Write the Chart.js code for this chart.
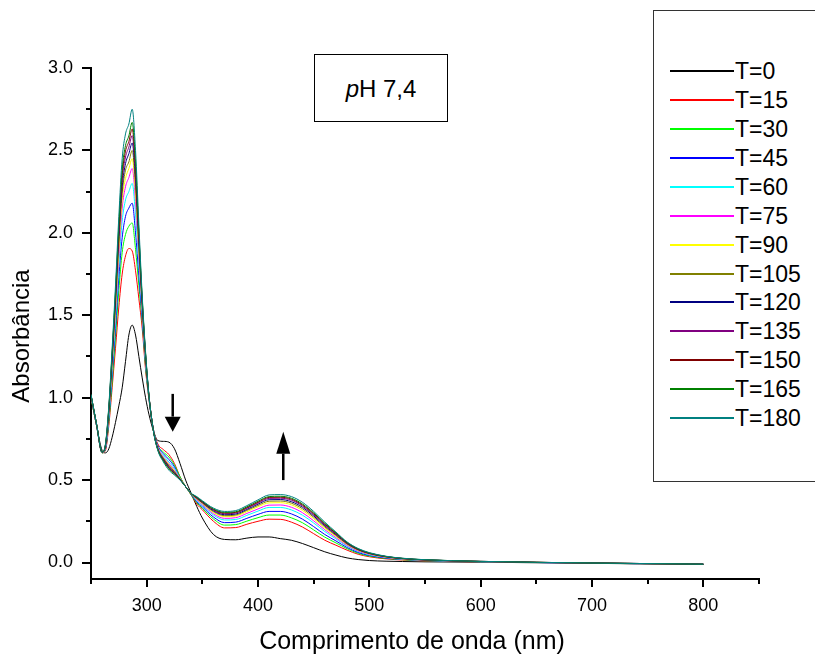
<!DOCTYPE html>
<html>
<head>
<meta charset="utf-8">
<script src="https://cdn.jsdelivr.net/npm/chart.js@4.4.1/dist/chart.umd.min.js"></script>
<style>
  html, body { margin: 0; padding: 0; background: #fff; }
  #wrap { position: relative; width: 815px; height: 655px; overflow: hidden; font-family: "Liberation Sans", Arial, sans-serif; }
  #chart { position: absolute; left: 0; top: 0; }
  #legend { position: absolute; left: 653px; top: 10px; width: 200px; height: 472px; border: 1.5px solid #333; box-sizing: border-box; background: #fff; }
  .item { position: absolute; left: 16px; height: 24px; display: flex; align-items: center; font-size: 23px; color: #000; white-space: nowrap; }
  .swatch { display: inline-block; width: 64px; height: 2px; margin-right: 1px; }
  #ph { position: absolute; left: 314px; top: 54px; width: 134px; height: 68px; border: 1px solid #000; box-sizing: border-box; background: #fff; }
  #ph span { position: absolute; left: 0; right: 0; top: 20px; text-align: center; font-size: 24px; line-height: 27px; color: #000; }
</style>
</head>
<body>
<div id="wrap">
  <canvas id="chart" width="815" height="655"></canvas>
  <div id="ph"><span><i>p</i>H 7,4</span></div>
  <div id="legend"></div>
</div>
<script>
// wavelength grid (nm)
const wavelengths = [250, 255, 260, 263, 266, 269, 272, 275, 278, 281, 284, 287, 290, 293, 296, 299, 302, 306, 310, 315, 320, 325, 330, 335, 340, 345, 350, 360, 370, 380, 390, 400, 410, 420, 430, 440, 450, 460, 470, 480, 490, 500, 515, 530, 550, 600, 700, 800];

const labels = ["T=0", "T=15", "T=30", "T=45", "T=60", "T=75", "T=90", "T=105", "T=120", "T=135", "T=150", "T=165", "T=180"];
const colors = ["#000000", "#ff0000", "#00ff00", "#0000ff", "#00ffff", "#ff00ff", "#ffff00", "#808000", "#000080", "#800080", "#800000", "#008000", "#008080"];

// tick positions (labelled every 100 nm / 0.5)
const xTickValues = [250, 300, 350, 400, 450, 500, 550, 600, 650, 700, 750, 800, 850];
const yTickValues = [0, 0.25, 0.5, 0.75, 1.0, 1.25, 1.5, 1.75, 2.0, 2.25, 2.5, 2.75, 3.0];

const t0 = [1.00, 0.83, 0.68, 0.665, 0.69, 0.76, 0.85, 0.95, 1.06, 1.22, 1.38, 1.44, 1.38, 1.25, 1.12, 1.00, 0.90, 0.80, 0.74, 0.735, 0.73, 0.69, 0.60, 0.50, 0.42, 0.34, 0.27, 0.17, 0.14, 0.138, 0.148, 0.155, 0.155, 0.145, 0.135, 0.115, 0.09, 0.065, 0.045, 0.028, 0.018, 0.012, 0.008, 0.006, 0.004, 0.002, -0.005, -0.012];
const t15 = [1.00, 0.83, 0.665, 0.68, 0.83, 1.06, 1.30, 1.55, 1.75, 1.86, 1.905, 1.89, 1.77, 1.60, 1.42, 1.17, 0.99, 0.81, 0.72, 0.685, 0.655, 0.60, 0.52, 0.46, 0.41, 0.355, 0.32, 0.25, 0.21, 0.212, 0.232, 0.25, 0.263, 0.262, 0.245, 0.215, 0.175, 0.135, 0.105, 0.075, 0.05, 0.035, 0.022, 0.015, 0.01, 0.004, -0.004, -0.012];
const t30 = [1.00, 0.83, 0.665, 0.69, 0.85, 1.10, 1.37, 1.65, 1.88, 1.99, 2.04, 2.06, 1.90, 1.68, 1.46, 1.19, 1.00, 0.81, 0.71, 0.67, 0.64, 0.59, 0.52, 0.46, 0.41, 0.363, 0.329, 0.264, 0.227, 0.23, 0.251, 0.272, 0.288, 0.288, 0.271, 0.241, 0.198, 0.154, 0.119, 0.084, 0.056, 0.039, 0.025, 0.017, 0.011, 0.005, -0.004, -0.012];
const t45 = [1.01, 0.83, 0.667, 0.69, 0.87, 1.14, 1.42, 1.73, 1.97, 2.10, 2.15, 2.18, 2.00, 1.74, 1.48, 1.21, 1.00, 0.81, 0.71, 0.66, 0.625, 0.58, 0.51, 0.46, 0.413, 0.369, 0.338, 0.276, 0.242, 0.245, 0.268, 0.292, 0.31, 0.31, 0.295, 0.263, 0.218, 0.17, 0.131, 0.091, 0.061, 0.043, 0.027, 0.019, 0.012, 0.005, -0.004, -0.011];
const t60 = [1.01, 0.835, 0.667, 0.70, 0.885, 1.17, 1.475, 1.80, 2.07, 2.20, 2.25, 2.30, 2.11, 1.81, 1.51, 1.22, 1.00, 0.805, 0.70, 0.65, 0.61, 0.57, 0.51, 0.46, 0.415, 0.377, 0.346, 0.288, 0.258, 0.261, 0.286, 0.312, 0.334, 0.334, 0.319, 0.287, 0.24, 0.188, 0.143, 0.099, 0.067, 0.047, 0.03, 0.02, 0.013, 0.005, -0.004, -0.011];
const t75 = [1.01, 0.835, 0.668, 0.70, 0.90, 1.20, 1.52, 1.86, 2.15, 2.28, 2.335, 2.39, 2.19, 1.86, 1.53, 1.23, 1.01, 0.805, 0.70, 0.64, 0.60, 0.56, 0.51, 0.46, 0.416, 0.381, 0.352, 0.296, 0.268, 0.272, 0.298, 0.325, 0.348, 0.349, 0.335, 0.302, 0.253, 0.199, 0.151, 0.104, 0.07, 0.05, 0.031, 0.021, 0.014, 0.006, -0.004, -0.011];
const t90 = [1.01, 0.836, 0.668, 0.705, 0.91, 1.21, 1.54, 1.90, 2.20, 2.33, 2.39, 2.45, 2.24, 1.89, 1.55, 1.24, 1.01, 0.804, 0.695, 0.637, 0.594, 0.555, 0.507, 0.46, 0.416, 0.385, 0.357, 0.304, 0.278, 0.282, 0.308, 0.338, 0.362, 0.363, 0.35, 0.316, 0.266, 0.209, 0.159, 0.109, 0.074, 0.052, 0.033, 0.022, 0.015, 0.006, -0.003, -0.011];
const t105 = [1.015, 0.837, 0.669, 0.708, 0.914, 1.23, 1.57, 1.935, 2.24, 2.38, 2.43, 2.50, 2.28, 1.915, 1.56, 1.247, 1.011, 0.803, 0.692, 0.633, 0.589, 0.551, 0.506, 0.46, 0.417, 0.388, 0.361, 0.309, 0.284, 0.288, 0.316, 0.346, 0.372, 0.373, 0.36, 0.326, 0.275, 0.216, 0.164, 0.112, 0.076, 0.054, 0.034, 0.023, 0.015, 0.006, -0.003, -0.011];
const t120 = [1.015, 0.838, 0.669, 0.71, 0.921, 1.24, 1.59, 1.97, 2.28, 2.42, 2.48, 2.545, 2.325, 1.94, 1.57, 1.254, 1.013, 0.802, 0.69, 0.628, 0.583, 0.547, 0.505, 0.46, 0.418, 0.391, 0.364, 0.314, 0.29, 0.294, 0.322, 0.354, 0.381, 0.382, 0.369, 0.335, 0.283, 0.223, 0.169, 0.115, 0.078, 0.055, 0.035, 0.024, 0.016, 0.006, -0.003, -0.01];
const t135 = [1.016, 0.838, 0.669, 0.712, 0.927, 1.254, 1.608, 2.00, 2.32, 2.46, 2.52, 2.59, 2.36, 1.965, 1.58, 1.26, 1.014, 0.802, 0.688, 0.624, 0.578, 0.543, 0.504, 0.46, 0.419, 0.393, 0.367, 0.318, 0.296, 0.30, 0.329, 0.361, 0.389, 0.39, 0.378, 0.343, 0.29, 0.229, 0.173, 0.118, 0.08, 0.056, 0.036, 0.024, 0.016, 0.007, -0.003, -0.01];
const t150 = [1.017, 0.839, 0.67, 0.714, 0.933, 1.266, 1.627, 2.023, 2.352, 2.496, 2.554, 2.63, 2.398, 1.987, 1.592, 1.265, 1.016, 0.801, 0.686, 0.62, 0.573, 0.54, 0.503, 0.46, 0.419, 0.395, 0.369, 0.322, 0.30, 0.304, 0.333, 0.366, 0.395, 0.396, 0.384, 0.349, 0.296, 0.233, 0.177, 0.12, 0.081, 0.057, 0.036, 0.025, 0.016, 0.007, -0.003, -0.01];
const t165 = [1.018, 0.839, 0.67, 0.716, 0.939, 1.277, 1.644, 2.048, 2.384, 2.53, 2.588, 2.67, 2.431, 2.007, 1.601, 1.27, 1.017, 0.801, 0.684, 0.617, 0.569, 0.537, 0.502, 0.46, 0.419, 0.397, 0.371, 0.325, 0.304, 0.308, 0.338, 0.372, 0.40, 0.402, 0.39, 0.355, 0.301, 0.238, 0.18, 0.122, 0.083, 0.058, 0.037, 0.025, 0.017, 0.007, -0.003, -0.01];
const t180 = [1.02, 0.84, 0.67, 0.72, 0.95, 1.30, 1.68, 2.10, 2.45, 2.60, 2.66, 2.75, 2.50, 2.05, 1.62, 1.28, 1.02, 0.80, 0.68, 0.61, 0.56, 0.53, 0.50, 0.46, 0.42, 0.40, 0.375, 0.33, 0.31, 0.315, 0.345, 0.38, 0.41, 0.412, 0.40, 0.365, 0.31, 0.245, 0.185, 0.125, 0.085, 0.06, 0.038, 0.026, 0.017, 0.007, -0.003, -0.01];

const series = [t0, t15, t30, t45, t60, t75, t90, t105, t120, t135, t150, t165, t180];

// arrows in data units: [x, from y, to y, head length px, head width px]
const arrows = [
  [323.4, 1.023, 0.794, 15, 16],
  [422.7, 0.50, 0.794, 22, 14],
];

const FONT = '"Liberation Sans", Arial, sans-serif';
const isStep = (v, s) => Math.abs(v / s - Math.round(v / s)) < 1e-6;

const decorPlugin = {
  id: "decor",
  afterDraw(chart) {
    const { ctx, scales: { x, y } } = chart;
    ctx.save();
    ctx.strokeStyle = "#000";
    ctx.fillStyle = "#000";
    ctx.lineWidth = 2;
    y.ticks.forEach((t) => {
      const len = isStep(t.value, 0.5) ? 9 : 5;
      const py = Math.round(y.getPixelForValue(t.value));
      ctx.beginPath();
      ctx.moveTo(x.left - len, py);
      ctx.lineTo(x.left, py);
      ctx.stroke();
    });
    x.ticks.forEach((t) => {
      const len = isStep(t.value, 100) ? 8 : 5;
      const px = Math.round(x.getPixelForValue(t.value));
      ctx.beginPath();
      ctx.moveTo(px, y.bottom);
      ctx.lineTo(px, y.bottom + len);
      ctx.stroke();
    });
    // arrows
    ctx.lineWidth = 2.5;
    arrows.forEach(([ax, y1, y2, hl, hw]) => {
      const px = x.getPixelForValue(ax);
      const p1 = y.getPixelForValue(y1);
      const p2 = y.getPixelForValue(y2);
      const dir = p2 > p1 ? 1 : -1;
      ctx.beginPath();
      ctx.moveTo(px, p1);
      ctx.lineTo(px, p2 - dir * hl);
      ctx.stroke();
      ctx.beginPath();
      ctx.moveTo(px, p2);
      ctx.lineTo(px - hw / 2, p2 - dir * hl);
      ctx.lineTo(px + hw / 2, p2 - dir * hl);
      ctx.closePath();
      ctx.fill();
    });
    // axis titles
    ctx.fillStyle = "#000";
    ctx.textAlign = "center";
    ctx.textBaseline = "middle";
    ctx.font = `25px ${FONT}`;
    ctx.fillText("Comprimento de onda (nm)", 412, 642);
    ctx.translate(22, 336);
    ctx.rotate(-Math.PI / 2);
    ctx.font = `24px ${FONT}`;
    ctx.fillText("Absorbância", 0, 0);
    ctx.restore();
  },
};

const ctx = document.getElementById("chart").getContext("2d");
const chart = new Chart(ctx, {
  type: "line",
  data: {
    datasets: series.map((arr, i) => ({
      label: labels[i],
      data: wavelengths.map((w, j) => ({ x: w, y: arr[j] })),
      borderColor: colors[i],
      backgroundColor: colors[i],
      borderWidth: 1,
      pointRadius: 0,
      fill: false,
      cubicInterpolationMode: "monotone",
      order: series.length - i,
    })),
  },
  options: {
    responsive: false,
    animation: false,
    layout: { padding: { top: 68, right: 56, bottom: 0, left: 0 } },
    plugins: { legend: { display: false }, tooltip: { enabled: false } },
    scales: {
      x: {
        type: "linear",
        min: 250,
        max: 850,
        afterBuildTicks: (s) => { s.ticks = xTickValues.map((v) => ({ value: v })); },
        afterFit: (s) => { s.height = 76; },
        grid: { display: false },
        border: { display: true, color: "#000", width: 2 },
        ticks: {
          autoSkip: false,
          maxRotation: 0,
          padding: 8,
          color: "#000",
          font: { size: 18, family: FONT },
          callback: (v) => (isStep(v, 100) && v <= 800 ? String(v) : ""),
        },
      },
      y: {
        min: -0.1,
        max: 3.0,
        afterBuildTicks: (s) => { s.ticks = yTickValues.map((v) => ({ value: v })); },
        afterFit: (s) => { s.width = 91; },
        grid: { display: false },
        border: { display: true, color: "#000", width: 2 },
        ticks: {
          autoSkip: false,
          padding: 10,
          color: "#000",
          font: { size: 18, family: FONT },
          callback: (v) => (isStep(v, 0.5) ? v.toFixed(1) : ""),
        },
      },
    },
  },
  plugins: [decorPlugin],
});

// legend built from the series labels and colours
const legend = document.getElementById("legend");
labels.forEach((lab, i) => {
  const item = document.createElement("div");
  item.className = "item";
  item.style.top = Math.round(48 + i * 28.93) + "px";
  item.innerHTML = `<span class="swatch" style="background:${colors[i]}"></span><span>${lab}</span>`;
  legend.appendChild(item);
});
</script>
</body>
</html>
